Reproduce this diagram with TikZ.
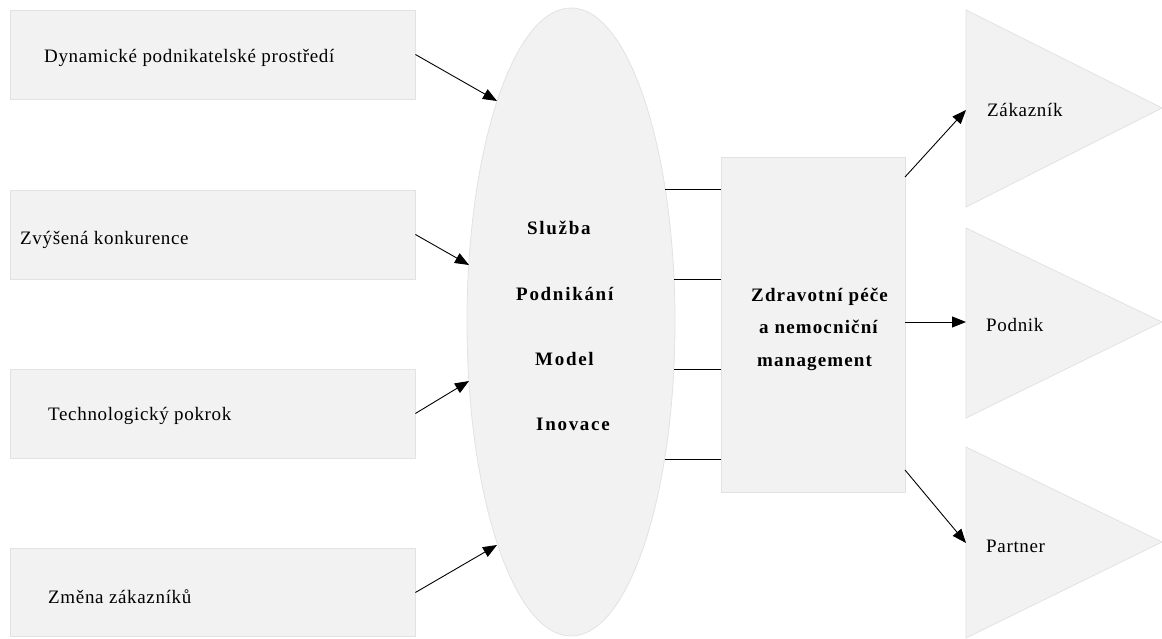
\documentclass[tikz,border=0pt]{standalone}
\usepackage{fontspec}
\setmainfont{Liberation Serif}
\newfontfamily\lblfont[LetterSpace=3.5]{Liberation Serif}
\newfontfamily\bldfont[LetterSpace=9]{Liberation Serif}
\newfontfamily\hcfont[LetterSpace=6]{Liberation Serif}
\usetikzlibrary{shapes.geometric,arrows.meta}
\definecolor{shade}{HTML}{F2F2F2}
\definecolor{rim}{HTML}{E2E2E2}
\tikzset{
  panel/.style={draw=rim, fill=shade, line width=0.8pt, inner sep=0pt},
  factor/.style={panel, rectangle, minimum width=405pt},
  lbl/.style={anchor=base west, inner sep=0pt, font=\lblfont\fontsize{19}{22}\selectfont},
  bold/.style={anchor=base west, inner sep=0pt, font=\bldfont\bfseries\fontsize{19}{22}\selectfont},
  hcbold/.style={anchor=base west, inner sep=0pt, font=\hcfont\bfseries\fontsize{19}{22}\selectfont},
  feed/.style={draw=black, line width=0.9pt, -{Triangle[length=14pt,width=11pt]}},
  link/.style={draw=black, line width=0.9pt}
}
\begin{document}
\begin{tikzpicture}[x=1pt,y=-1pt]
\useasboundingbox (0,0) rectangle (1162,639);

% driving factors on the left
\node[factor, minimum height=89pt] (b1) at (212.5,54.5) {};
\node[factor, minimum height=89pt] (b2) at (212.5,234.5) {};
\node[factor, minimum height=89pt] (b3) at (212.5,413.5) {};
\node[factor, minimum height=88pt] (b4) at (212.5,592.5) {};
\node[lbl] (l1) at (44,63) {Dynamické podnikatelské prostředí};
\node[lbl] (l2) at (20,244) {Zvýšená konkurence};
\node[lbl] (l3) at (48,420) {Technologický pokrok};
\node[lbl] (l4) at (48,603) {Změna zákazníků};

% central ellipse: service business model innovation
\node[panel, ellipse, minimum width=208pt, minimum height=628pt] (ell) at (571,322) {};
\node[bold] (s1) at (527,235) {Služba};
\node[bold] (s2) at (516,300) {Podnikání};
\node[bold] (s3) at (535,365) {Model};
\node[bold] (s4) at (536,430) {Inovace};

% points on the ellipse outline
\coordinate (a1) at (497,101);
\coordinate (a2) at (469,265);
\coordinate (a3) at (469,381);
\coordinate (a4) at (497,545);
\coordinate (e1) at (665,189);
\coordinate (e2) at (674,279);
\coordinate (e3) at (674,369);
\coordinate (e4) at (665,459);

% health care block
\node[panel, rectangle, minimum width=184pt, minimum height=335pt] (hc) at (813,324.5) {};
\node[hcbold] (h1) at (751,301) {Zdravotní péče};
\node[hcbold] (h2) at (759,333) {a nemocniční};
\node[hcbold] (h3) at (757,366) {management};

% stakeholder triangles
\draw[draw=rim, fill=shade, line width=0.8pt] (966,10) -- (1162,108) -- (966,207) -- cycle;
\draw[draw=rim, fill=shade, line width=0.8pt] (966,228) -- (1162,322) -- (966,418) -- cycle;
\draw[draw=rim, fill=shade, line width=0.8pt] (966,447) -- (1162,542) -- (966,638) -- cycle;
\coordinate (t1) at (966,110);
\coordinate (t2) at (966,322);
\coordinate (t3) at (966,543);
\node[lbl] (p1) at (987,117) {Zákazník};
\node[lbl] (p2) at (986,331) {Podnik};
\node[lbl] (p3) at (986,552) {Partner};

% connectors
\draw[feed] (b1.east) -- (a1);
\draw[feed] (b2.east) -- (a2);
\draw[feed] (b3.east) -- (a3);
\draw[feed] (b4.east) -- (a4);
\draw[link] (e1) -- (hc.west |- e1);
\draw[link] (e2) -- (hc.west |- e2);
\draw[link] (e3) -- (hc.west |- e3);
\draw[link] (e4) -- (hc.west |- e4);
\coordinate (o1) at (905,177);
\coordinate (o3) at (905,470);
\draw[feed] (o1) -- (t1);
\draw[feed] (hc.east |- t2) -- (t2);
\draw[feed] (o3) -- (t3);
\end{tikzpicture}
\end{document}
